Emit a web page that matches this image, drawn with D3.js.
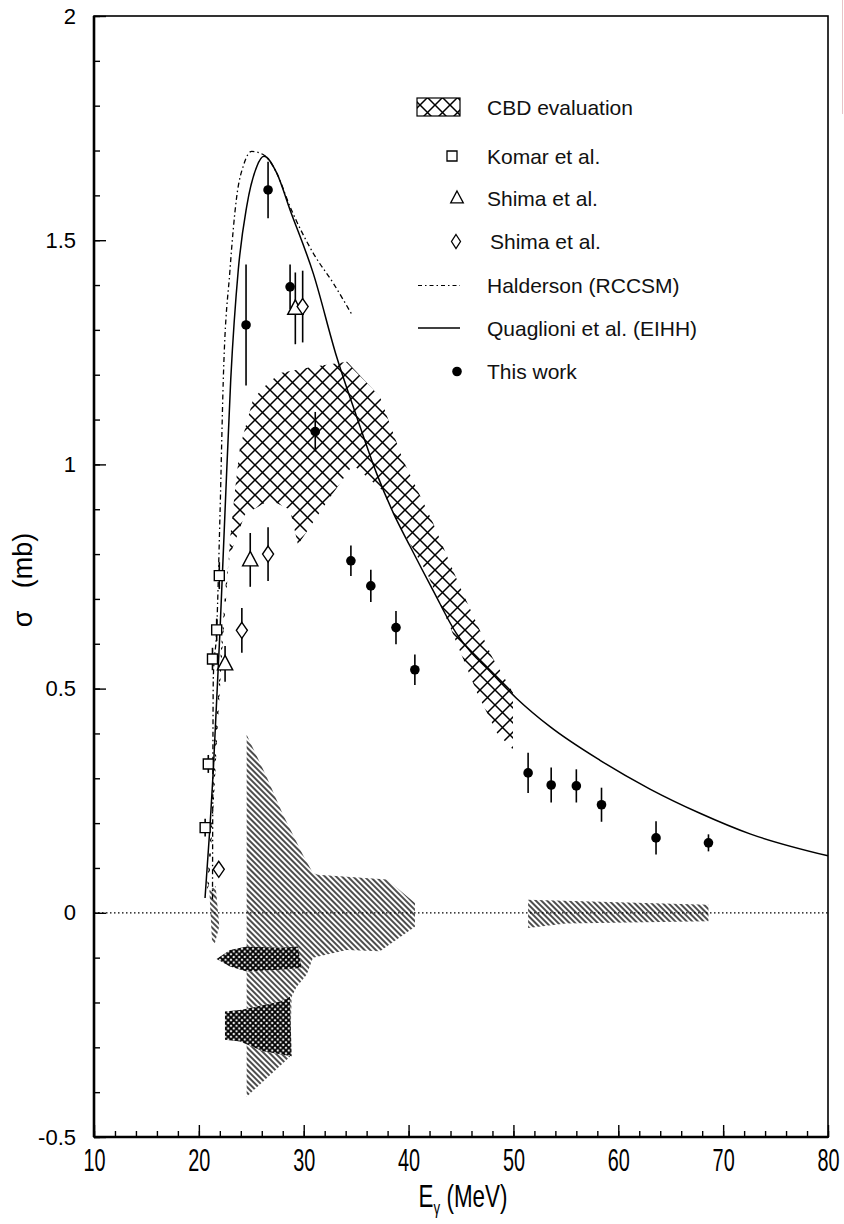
<!DOCTYPE html>
<html lang="en">
<head>
<meta charset="UTF-8" />
<title>Photodisintegration cross section</title>
<script src="https://d3js.org/d3.v7.min.js"></script>
<style>
  body { margin: 0; background: #fff; }
  svg { font-family: "Liberation Sans", Arial, sans-serif; }
  .pre { white-space: pre; }
</style>
</head>
<body>
<svg id="chart" width="844" height="1224"></svg>
<script>
// ---- data (E in MeV, sigma in mb) ----
const thisWorkE     = [24.5, 26.6, 28.7, 31.1, 34.5, 36.4, 38.8, 40.6, 51.4, 53.6, 56.0, 58.4, 63.6, 68.6];
const thisWorkSigma = [1.311, 1.612, 1.396, 1.073, 0.785, 0.729, 0.636, 0.542, 0.312, 0.285, 0.283, 0.241, 0.167, 0.156];
const thisWorkErr   = [0.135, 0.063, 0.050, 0.044, 0.034, 0.036, 0.037, 0.034, 0.045, 0.039, 0.037, 0.038, 0.037, 0.019];

const komarE     = [20.6, 20.9, 21.3, 21.7, 21.95];
const komarSigma = [0.19, 0.332, 0.566, 0.631, 0.752];
const komarErr   = [0.02, 0.02, 0.025, 0.025, 0.03];

const shimaTriE     = [22.5, 24.9, 29.2];
const shimaTriSigma = [0.555, 0.787, 1.348];
const shimaTriErr   = [0.04, 0.06, 0.08];

const shimaDiaE     = [21.9, 24.1, 26.6, 29.9];
const shimaDiaSigma = [0.097, 0.63, 0.80, 1.352];
const shimaDiaErr   = [0.0, 0.05, 0.06, 0.08];

const haldersonE     = [21.30, 21.38, 21.70, 22.02, 22.33, 22.97, 23.61, 24.3, 25.04, 26.2, 27.42, 28.69, 30.91, 32.82, 34.67];
const haldersonSigma = [0.03, 0.527, 0.631, 0.892, 1.189, 1.434, 1.597, 1.67, 1.698, 1.69, 1.650, 1.575, 1.471, 1.404, 1.331];

const quaglioniE     = [20.59, 21.06, 21.38, 22.02, 22.49, 23.04, 23.76, 24.56, 25.52, 26.21, 27.42, 28.69, 30.91, 33.14, 35.04, 36.95, 38.54, 40.13, 42.36, 44.59, 46.0, 47.45, 50.31, 53.49, 58.26, 63.02, 67.79, 72.56, 80.0];
const quaglioniSigma = [0.033, 0.192, 0.319, 0.631, 0.892, 1.189, 1.434, 1.575, 1.664, 1.687, 1.650, 1.568, 1.426, 1.24, 1.107, 0.980, 0.892, 0.818, 0.718, 0.622, 0.580, 0.546, 0.478, 0.415, 0.340, 0.276, 0.222, 0.176, 0.127];

// CBD evaluation band: upper and lower edges
const cbdUpper = [[20.97, 0.062], [21.44, 0.252], [21.83, 0.43], [22.30, 0.609], [22.59, 0.698], [22.97, 0.832], [23.45, 0.943], [23.92, 1.039], [25.16, 1.144], [26.12, 1.171], [27.74, 1.204], [30.88, 1.218], [34.13, 1.229], [37.27, 1.151], [39.47, 1.010], [42.33, 0.870], [44.90, 0.727], [47.96, 0.571], [49.96, 0.491]];
const cbdLower = [[20.78, 0.051], [21.25, 0.23], [21.63, 0.408], [22.11, 0.587], [22.59, 0.743], [22.97, 0.798], [24.40, 0.888], [26.78, 0.921], [28.69, 0.899], [29.45, 0.821], [32.03, 0.910], [34.70, 0.999], [37.46, 0.943], [39.18, 0.861], [41.76, 0.758], [43.95, 0.638], [46.53, 0.491], [48.43, 0.401], [49.96, 0.364]];

// systematic-error regions around zero
const sysDiagMain = [[24.56, 0.397], [26.47, 0.303], [28.02, 0.219], [29.93, 0.129], [30.88, 0.089], [31.36, 0.085], [37.94, 0.074], [40.61, 0.022], [40.61, -0.031], [37.27, -0.086], [34.10, -0.083], [30.88, -0.100], [30.28, -0.138], [29.33, -0.165], [28.85, -0.187], [28.69, -0.321], [24.56, -0.410]];
const sysDiagLeft = [[21.0, 0.05], [21.6, 0.06], [21.95, -0.03], [21.5, -0.07], [21.25, -0.06]];
const sysDiagRight = [[51.4, 0.029], [68.6, 0.018], [68.6, -0.019], [55.0, -0.024], [51.4, -0.034]];
const sysMeshA = [[21.69, -0.103], [22.97, -0.083], [24.56, -0.075], [27.74, -0.078], [29.45, -0.075], [29.81, -0.123], [27.74, -0.127], [24.56, -0.131], [22.97, -0.120]];
const sysMeshB = [[22.49, -0.220], [24.09, -0.216], [27.74, -0.198], [28.69, -0.187], [28.85, -0.320], [26.12, -0.309], [23.92, -0.287], [22.49, -0.283]];

const xMajor = [10, 20, 30, 40, 50, 60, 70, 80];
const yMajor = [-0.5, 0, 0.5, 1, 1.5, 2];

const legendItems = ["CBD evaluation", "Komar et al.", "Shima et al.", "Shima et al.", "Halderson (RCCSM)", "Quaglioni et al. (EIHH)", "This work"];

// ---- layout ----
const svg = d3.select("#chart");
const x = d3.scaleLinear().domain([10, 80]).range([94, 828]);
const y = d3.scaleLinear().domain([-0.5, 2]).range([1137, 16]);

const defs = svg.append("defs");
defs.append("pattern").attr("id", "cross")
  .attr("patternUnits", "userSpaceOnUse").attr("width", 15).attr("height", 15)
  .append("path").attr("d", "M0,0L15,15M15,0L0,15")
  .attr("stroke", "#000").attr("stroke-width", 1.5);
defs.append("pattern").attr("id", "diag")
  .attr("patternUnits", "userSpaceOnUse").attr("width", 4).attr("height", 4)
  .attr("patternTransform", "rotate(45)")
  .append("line").attr("x1", 0).attr("x2", 4).attr("y1", 2).attr("y2", 2)
  .attr("stroke", "#000").attr("stroke-width", 1.4);
defs.append("pattern").attr("id", "mesh")
  .attr("patternUnits", "userSpaceOnUse").attr("width", 5.5).attr("height", 5.5)
  .append("path").attr("d", "M0,0L5.5,5.5M5.5,0L0,5.5")
  .attr("stroke", "#000").attr("stroke-width", 1.8);

const poly = d3.line().x(d => x(d[0])).y(d => y(d[1]));

// CBD band
svg.append("path")
  .attr("d", poly(cbdUpper.concat(cbdLower.slice().reverse())) + "Z")
  .attr("fill", "url(#cross)");

// systematic regions
[sysDiagMain, sysDiagLeft, sysDiagRight].forEach(p => {
  svg.append("path").attr("d", poly(p) + "Z").attr("fill", "url(#diag)");
});
[sysMeshA, sysMeshB].forEach(p => {
  svg.append("path").attr("d", poly(p) + "Z").attr("fill", "#fff");
  svg.append("path").attr("d", poly(p) + "Z").attr("fill", "url(#mesh)");
});

// zero line
svg.append("line")
  .attr("x1", x(10)).attr("x2", x(80)).attr("y1", y(0)).attr("y2", y(0))
  .attr("stroke", "#000").attr("stroke-width", 1.2).attr("stroke-dasharray", "1.5,2.5");

// theory curves
const curve = d3.line().x(d => x(d[0])).y(d => y(d[1])).curve(d3.curveMonotoneX);
svg.append("path")
  .attr("d", curve(haldersonE.map((e, i) => [e, haldersonSigma[i]])))
  .attr("fill", "none").attr("stroke", "#000").attr("stroke-width", 1.3)
  .attr("stroke-dasharray", "5,3,1.5,3");
svg.append("path")
  .attr("d", curve(quaglioniE.map((e, i) => [e, quaglioniSigma[i]])))
  .attr("fill", "none").attr("stroke", "#000").attr("stroke-width", 1.5);

// data points
function errorBars(E, S, Er) {
  svg.append("g").selectAll("line")
    .data(E.map((e, i) => [e, S[i], Er[i]]).filter(d => d[2] > 0))
    .join("line")
    .attr("x1", d => x(d[0])).attr("x2", d => x(d[0]))
    .attr("y1", d => y(d[1] + d[2])).attr("y2", d => y(d[1] - d[2]))
    .attr("stroke", "#000").attr("stroke-width", 1.6);
}
errorBars(komarE, komarSigma, komarErr);
errorBars(shimaTriE, shimaTriSigma, shimaTriErr);
errorBars(shimaDiaE, shimaDiaSigma, shimaDiaErr);
errorBars(thisWorkE, thisWorkSigma, thisWorkErr);

const sqPath = s => `M${-s},${-s}H${s}V${s}H${-s}Z`;
const triPath = s => `M0,${-s}L${s * 0.9},${s * 0.7}H${-s * 0.9}Z`;
const diaPath = (w, h) => `M0,${-h}L${w},0L0,${h}L${-w},0Z`;

svg.append("g").selectAll("path").data(komarE.map((e, i) => [e, komarSigma[i]]))
  .join("path").attr("transform", d => `translate(${x(d[0])},${y(d[1])})`)
  .attr("d", sqPath(5)).attr("fill", "#fff").attr("stroke", "#000").attr("stroke-width", 1.4);
svg.append("g").selectAll("path").data(shimaTriE.map((e, i) => [e, shimaTriSigma[i]]))
  .join("path").attr("transform", d => `translate(${x(d[0])},${y(d[1])})`)
  .attr("d", triPath(8.5)).attr("fill", "#fff").attr("stroke", "#000").attr("stroke-width", 1.4);
svg.append("g").selectAll("path").data(shimaDiaE.map((e, i) => [e, shimaDiaSigma[i]]))
  .join("path").attr("transform", d => `translate(${x(d[0])},${y(d[1])})`)
  .attr("d", diaPath(5.5, 8)).attr("fill", "#fff").attr("stroke", "#000").attr("stroke-width", 1.4);
svg.append("g").selectAll("circle").data(thisWorkE.map((e, i) => [e, thisWorkSigma[i]]))
  .join("circle").attr("cx", d => x(d[0])).attr("cy", d => y(d[1])).attr("r", 4.8).attr("fill", "#000");

// axes
const yMinor = d3.range(-0.5, 2.0001, 0.1);
const xMinor = d3.range(10, 80.0001, 2);
svg.append("g").attr("transform", `translate(${x(10)},0)`)
  .call(d3.axisLeft(y).tickValues(yMinor).tickSize(-6).tickFormat(""))
  .call(g => g.selectAll("line").attr("stroke-width", 1.4));
svg.append("g").attr("transform", `translate(${x(10)},0)`)
  .call(d3.axisLeft(y).tickValues(yMajor).tickSize(-12).tickPadding(18).tickFormat(d => String(d)))
  .call(g => g.select(".domain").remove())
  .call(g => g.selectAll("line").attr("stroke-width", 1.4))
  .call(g => g.selectAll("text").attr("font-size", 22).attr("font-family", "Liberation Sans, Arial, sans-serif").attr("fill", "#000"));
svg.append("g").attr("transform", `translate(0,${y(-0.5)})`)
  .call(d3.axisBottom(x).tickValues(xMinor).tickSize(-6).tickFormat(""))
  .call(g => g.selectAll("line").attr("stroke-width", 1.4));
svg.append("g").attr("transform", `translate(0,${y(-0.5)})`)
  .call(d3.axisBottom(x).tickValues(xMajor).tickSize(-12).tickPadding(11).tickFormat(d => String(d)))
  .call(g => g.select(".domain").remove())
  .call(g => g.selectAll("line").attr("stroke-width", 1.4))
  .call(g => g.selectAll("text").attr("font-size", 32).attr("font-family", "Liberation Sans, Arial, sans-serif")
    .attr("fill", "#000").attr("transform", "scale(0.62,1)"));

// frame
svg.append("rect").attr("x", x(10)).attr("y", y(2)).attr("width", x(80) - x(10)).attr("height", y(-0.5) - y(2))
  .attr("fill", "none").attr("stroke", "#000").attr("stroke-width", 1.6);
svg.append("line").attr("x1", x(10)).attr("x2", x(10)).attr("y1", y(2)).attr("y2", y(-0.5))
  .attr("stroke", "#000").attr("stroke-width", 2.6);
svg.append("line").attr("x1", x(10)).attr("x2", x(80)).attr("y1", y(-0.5)).attr("y2", y(-0.5))
  .attr("stroke", "#000").attr("stroke-width", 2.6);

// axis titles
const xt = svg.append("text")
  .attr("transform", "translate(463,1207) scale(0.7,1)")
  .attr("text-anchor", "middle").attr("font-size", 32);
xt.append("tspan").text("E");
xt.append("tspan").attr("font-size", 19).attr("dy", 7).text("γ");
xt.append("tspan").attr("dy", -7).text(" (MeV)");

svg.append("text").attr("class", "pre")
  .attr("transform", "translate(32,580) rotate(-90)")
  .attr("text-anchor", "middle").attr("font-size", 27)
  .text("σ   (mb)");

// legend
const legY = [107, 156, 198, 241.5, 285.5, 328, 371.5];
const lg = svg.append("g");
lg.append("rect").attr("x", 417).attr("y", 98).attr("width", 43).attr("height", 18)
  .attr("fill", "url(#cross)").attr("stroke", "#000").attr("stroke-width", 1.2);
lg.append("path").attr("transform", `translate(452,${legY[1]})`).attr("d", sqPath(5))
  .attr("fill", "#fff").attr("stroke", "#000").attr("stroke-width", 1.3);
lg.append("path").attr("transform", `translate(457,${legY[2]})`).attr("d", triPath(7))
  .attr("fill", "#fff").attr("stroke", "#000").attr("stroke-width", 1.3);
lg.append("path").attr("transform", `translate(456,${legY[3]})`).attr("d", diaPath(4.5, 7))
  .attr("fill", "#fff").attr("stroke", "#000").attr("stroke-width", 1.3);
lg.append("line").attr("x1", 418).attr("x2", 460).attr("y1", legY[4]).attr("y2", legY[4])
  .attr("stroke", "#000").attr("stroke-width", 1.2).attr("stroke-dasharray", "4,3,1.5,3");
lg.append("line").attr("x1", 418).attr("x2", 460).attr("y1", legY[5]).attr("y2", legY[5])
  .attr("stroke", "#000").attr("stroke-width", 1.4);
lg.append("circle").attr("cx", 457).attr("cy", legY[6]).attr("r", 4.8).attr("fill", "#000");
lg.selectAll("text").data(legendItems).join("text")
  .attr("x", (d, i) => i === 3 ? 490 : 487)
  .attr("y", (d, i) => legY[i] + 7.5)
  .attr("font-size", 21).attr("fill", "#111")
  .text(d => d);

// faint edge line at top right of the scan
svg.append("line").attr("x1", 842.5).attr("x2", 842.5).attr("y1", 0).attr("y2", 114)
  .attr("stroke", "#e6c4c8").attr("stroke-width", 1);
</script>
</body>
</html>
